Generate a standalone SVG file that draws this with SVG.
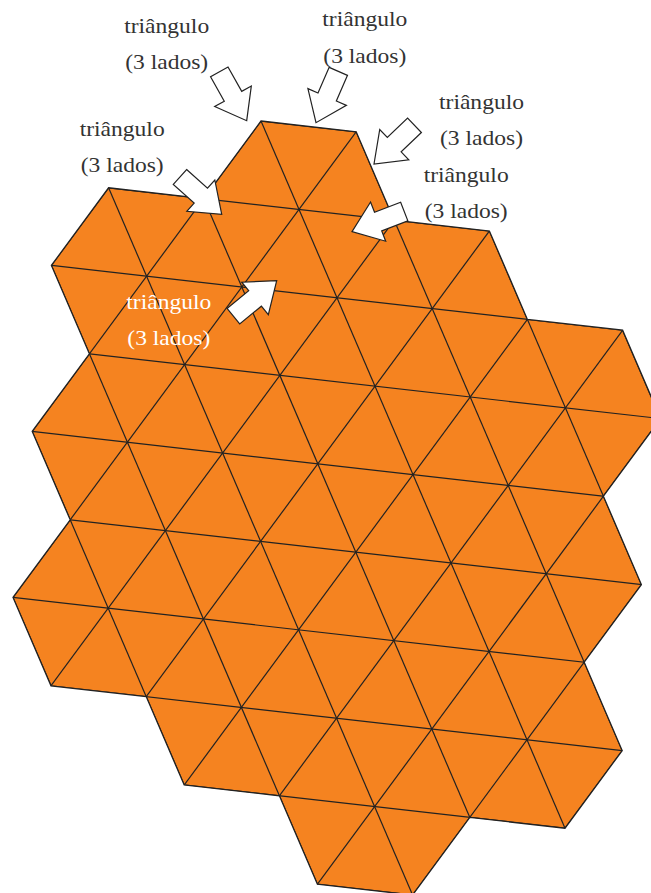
<svg xmlns="http://www.w3.org/2000/svg" xmlns:xlink="http://www.w3.org/1999/xlink" width="651" height="893" viewBox="0 0 651 893">
  <style>
    text.lbl { font-family: 'Liberation Serif', 'Times New Roman', serif; font-size: 22px; fill: #333333; text-anchor: middle; }
    text.w { fill: #ffffff; }
    .grid line { stroke: #222222; stroke-width: 1.2; }
    .outline { fill: none; stroke: #222222; stroke-width: 1.3; stroke-linejoin: miter; }
    .arrow { fill: #ffffff; stroke: #222222; stroke-width: 1.2; stroke-linejoin: miter; }
  </style>
  <defs>
    <polygon id="shape" points="261,121 356.2,131.8 394.2,220.2 489.4,231 527.4,319.4 622.6,330.2 660.6,418.6 603.4,496.2 641.4,584.6 584.2,662.2 622.2,750.6 565,828.2 469.8,817.4 412.6,895 317.4,884.2 279.4,795.8 184.2,785 146.2,696.6 51,685.8 13,597.4 70.2,519.8 32.2,431.4 89.4,353.8 51.4,265.4 108.6,187.8 203.8,198.6"/>
    <clipPath id="clip">
      <use xlink:href="#shape"/>
    </clipPath>
    <path id="arr" d="M-56,-10 L-28,-10 L-28,-21 L0,0 L-28,21 L-28,10 L-56,10 Z"/>
  </defs>

  <g id="tiling">
    <use xlink:href="#shape" fill="#F58320"/>
    <g class="grid" clip-path="url(#clip)">
      <line x1="-310.2" y1="56.2" x2="641.8" y2="164.2"/>
      <line x1="-272.2" y1="144.6" x2="679.8" y2="252.6"/>
      <line x1="-234.2" y1="233" x2="717.8" y2="341"/>
      <line x1="-196.2" y1="321.4" x2="755.8" y2="429.4"/>
      <line x1="-158.2" y1="409.8" x2="793.8" y2="517.8"/>
      <line x1="-120.2" y1="498.2" x2="831.8" y2="606.2"/>
      <line x1="-82.2" y1="586.6" x2="869.8" y2="694.6"/>
      <line x1="-44.2" y1="675" x2="907.8" y2="783"/>
      <line x1="-6.2" y1="763.4" x2="945.8" y2="871.4"/>
      <line x1="31.8" y1="851.8" x2="983.8" y2="959.8"/>

      <line x1="-253" y1="-21.4" x2="165" y2="951"/>
      <line x1="-157.8" y1="-10.6" x2="260.2" y2="961.8"/>
      <line x1="-62.6" y1="0.2" x2="355.4" y2="972.6"/>
      <line x1="32.6" y1="11" x2="450.6" y2="983.4"/>
      <line x1="127.8" y1="21.8" x2="545.8" y2="994.2"/>
      <line x1="223" y1="32.6" x2="641" y2="1005"/>
      <line x1="318.2" y1="43.4" x2="736.2" y2="1015.8"/>
      <line x1="413.4" y1="54.2" x2="831.4" y2="1026.6"/>
      <line x1="508.6" y1="65" x2="926.6" y2="1037.4"/>

      <line x1="509" y1="-355.4" x2="-463.4" y2="963.8"/>
      <line x1="604.2" y1="-344.6" x2="-368.2" y2="974.6"/>
      <line x1="699.4" y1="-333.8" x2="-273" y2="985.4"/>
      <line x1="794.6" y1="-323" x2="-177.8" y2="996.2"/>
      <line x1="889.8" y1="-312.2" x2="-82.6" y2="1007"/>
      <line x1="985" y1="-301.4" x2="12.6" y2="1017.8"/>
      <line x1="1080.2" y1="-290.6" x2="107.8" y2="1028.6"/>
      <line x1="1175.4" y1="-279.8" x2="203" y2="1039.4"/>
      <line x1="1270.6" y1="-269" x2="298.2" y2="1050.2"/>
      <line x1="1365.8" y1="-258.2" x2="393.4" y2="1061"/>
    </g>
    <use xlink:href="#shape" class="outline"/>
  </g>

  <g id="connectors">
    <use xlink:href="#arr" class="arrow" transform="translate(246.7,120.7) rotate(60.7)"/>
    <use xlink:href="#arr" class="arrow" transform="translate(316,122.7) rotate(113.5)"/>
    <use xlink:href="#arr" class="arrow" transform="translate(374,164) rotate(136.3)"/>
    <use xlink:href="#arr" class="arrow" transform="translate(221.7,214.3) rotate(41.8)"/>
    <use xlink:href="#arr" class="arrow" transform="translate(352,231.7) rotate(158.9)"/>
    <use xlink:href="#arr" class="arrow" transform="translate(276.7,280.7) rotate(-39.3)"/>
  </g>

  <g id="label1" font-family="Liberation Serif, serif">
    <text class="lbl" x="166.7" y="33" textLength="85" lengthAdjust="spacingAndGlyphs">triângulo</text>
    <text class="lbl" x="166.7" y="68.5" textLength="83" lengthAdjust="spacingAndGlyphs">(3 lados)</text>
  </g>
  <g id="label2" font-family="Liberation Serif, serif">
    <text class="lbl" x="364.8" y="26" textLength="85" lengthAdjust="spacingAndGlyphs">triângulo</text>
    <text class="lbl" x="364.8" y="62.5" textLength="83" lengthAdjust="spacingAndGlyphs">(3 lados)</text>
  </g>
  <g id="label3" font-family="Liberation Serif, serif">
    <text class="lbl" x="481.5" y="109.3" textLength="85" lengthAdjust="spacingAndGlyphs">triângulo</text>
    <text class="lbl" x="481.5" y="145" textLength="83" lengthAdjust="spacingAndGlyphs">(3 lados)</text>
  </g>
  <g id="label4" font-family="Liberation Serif, serif">
    <text class="lbl" x="122.2" y="136" textLength="85" lengthAdjust="spacingAndGlyphs">triângulo</text>
    <text class="lbl" x="122.2" y="171.7" textLength="83" lengthAdjust="spacingAndGlyphs">(3 lados)</text>
  </g>
  <g id="label5" font-family="Liberation Serif, serif">
    <text class="lbl" x="466.2" y="181.7" textLength="85" lengthAdjust="spacingAndGlyphs">triângulo</text>
    <text class="lbl" x="466.2" y="218.3" textLength="83" lengthAdjust="spacingAndGlyphs">(3 lados)</text>
  </g>
  <g id="label6" font-family="Liberation Serif, serif">
    <text class="lbl w" x="168.8" y="309" textLength="85" lengthAdjust="spacingAndGlyphs">triângulo</text>
    <text class="lbl w" x="168.8" y="345" textLength="83" lengthAdjust="spacingAndGlyphs">(3 lados)</text>
  </g>
</svg>
